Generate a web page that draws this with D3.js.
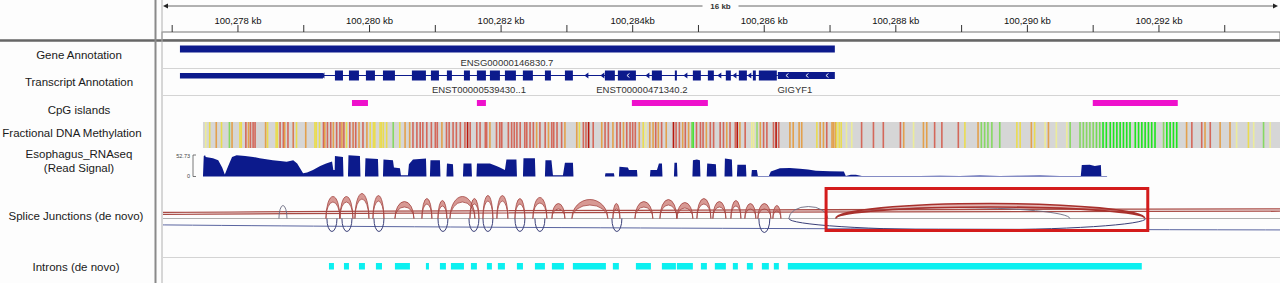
<!DOCTYPE html>
<html><head><meta charset="utf-8">
<script src="https://cdn.jsdelivr.net/npm/d3@7"></script>
<style>html,body{margin:0;padding:0;background:#fff;}svg{display:block;font-family:"Liberation Sans",Arial,sans-serif;}</style>
</head><body><svg id="c" width="1280" height="283"></svg>
<script>
// positions are in kb past chr position 100,000 kb
const viewKb = [276.83, 293.84];
const tickKb = [277,278,279,280,281,282,283,284,285,286,287,288,289,290,291,292,293];
const labelKb = [278,280,282,284,286,288,290,292];
const tickLabels = ["100,278 kb","100,280 kb","100,282 kb","100,284kb","100,286 kb","100,288 kb","100,290 kb","100,292 kb"];
const spanLabel = "16 kb";
const trackNames = ["Gene Annotation","Transcript Annotation","CpG islands","Fractional DNA Methylation","Esophagus_RNAseq","(Read Signal)","Splice Junctions (de novo)","Introns (de novo)"];

const geneSpan = [277.118, 287.073];
const geneName = "ENSG00000146830.7";
const geneNameKb = 282.088;
const leadKb = [277.118, 279.292];
const utrKb = [286.207, 287.073];
const exonStart = [279.474,279.687,279.945,280.204,280.644,280.933,281.176,281.435,281.632,281.830,282.058,282.331,282.666,282.970,283.578,283.775,284.292,284.641,284.915,285.143,285.416,285.614,285.827,285.918];
const exonEnd   = [279.596,279.839,280.082,280.386,280.857,281.055,281.252,281.526,281.769,281.982,282.225,282.483,282.757,283.091,283.729,284.049,284.444,284.672,285.036,285.234,285.492,285.736,285.872,286.191];
const intronArrowKb = [279.292,283.304,283.547,284.231,284.809,285.325,285.554,285.781];
const chevronKb = [283.928,286.345,286.649,286.953];
const transcriptNames = ["ENST00000539430..1","ENST00000471340.2","GIGYF1"];
const transcriptNameKb = [281.663, 284.14, 286.466];

const cpgStart = [279.733, 281.632, 283.988, 290.994];
const cpgEnd   = [279.976, 281.769, 285.143, 292.286];

const methBandKb = [277.468, 293.84];
const methKb = [277.51,277.57,277.67,277.75,277.87,277.91,278.03,278.05,278.12,278.16,278.19,278.23,278.26,278.42,278.45,278.58,278.60,278.64,278.69,278.71,278.76,278.84,278.89,279.03,279.17,279.19,279.24,279.30,279.32,279.36,279.41,279.45,279.50,279.55,279.58,279.61,279.65,279.70,279.75,279.79,279.84,279.90,279.96,280.01,280.06,280.08,280.16,280.18,280.21,280.26,280.36,280.46,280.54,280.61,280.66,280.72,280.77,280.81,280.87,280.94,281.00,281.03,281.10,281.17,281.21,281.27,281.32,281.38,281.45,281.49,281.53,281.63,281.68,281.76,281.78,281.83,281.93,281.98,282.01,282.11,282.16,282.20,282.24,282.29,282.36,282.39,282.44,282.49,282.54,282.59,282.67,282.72,282.77,282.80,282.85,
282.92,282.97,283.15,283.19,283.25,283.29,283.33,283.40,283.53,283.58,283.63,283.70,283.76,283.81,283.86,283.91,283.96,284.00,284.04,284.10,284.16,284.20,284.26,284.31,284.35,284.39,284.44,284.51,284.62,284.66,284.71,284.76,284.80,284.85,284.90,284.92,284.97,285.03,285.07,285.12,285.18,285.23,285.33,285.38,285.43,285.48,285.56,285.59,285.63,285.71,285.81,285.84,285.89,285.94,285.99,286.04,286.14,286.18,286.22,286.39,286.44,286.53,286.57,286.80,286.85,286.90,286.95,287.03,287.05,287.08,287.10,287.14,287.17,287.25,287.33,287.48,287.66,287.81,288.07,288.12,288.27,
288.42,288.47,288.59,288.70,288.95,289.05,289.25,289.30,289.35,289.40,289.46,289.58,289.84,289.89,290.06,290.11,290.27,290.32,290.44,290.60,290.65,290.80,290.85,290.90,290.95,291.00,291.05,291.10,291.15,291.20,291.26,291.31,291.36,291.41,291.46,291.51,291.56,291.64,291.69,291.74,291.79,291.84,291.89,291.94,292.07,292.12,292.17,292.22,292.27,292.42,292.50,292.65,292.70,292.78,292.93,293.08,293.18,293.36,293.44,293.59,293.69];
const methVal = [.5,.6,.75,.6,.25,.75,.6,.6,.9,.75,.9,.9,.9,.75,.6,.6,.6,.9,.9,.75,.9,.85,.6,.75,.6,.6,.6,.9,.75,.9,.9,.75,.9,.9,.75,.9,.6,.9,.85,.9,.75,.9,.75,.6,.6,.6,.6,.6,.6,.6,.25,.6,.75,.75,.9,.9,.9,.9,.9,.9,.9,.9,.75,.9,.9,.9,.9,.9,.9,1,.9,.9,.9,.9,.9,.75,.9,.9,.9,.9,.9,.9,.9,.9,.9,.9,.9,.9,.75,.9,.9,.75,.9,.9,.9,
.9,.75,.75,.6,.9,.9,1,.9,.75,.9,.9,.75,.9,.9,.75,.9,.9,.9,.9,.75,.6,.5,.75,.75,.9,.75,.9,.75,1,.9,.9,.75,.9,.75,.25,.1,.9,.9,.9,.75,.9,.9,.9,.9,.75,.9,.9,1,.75,.9,.5,.5,.3,.75,.9,.9,.9,1,.9,.75,.75,.75,.75,.6,.75,.75,.9,.75,.75,.75,.6,.6,.6,.5,.5,.9,.9,.9,.9,.75,.5,
.75,.75,.9,.9,.9,.6,.75,.25,.25,.25,.25,.25,.6,.6,.75,.6,.5,.75,.5,.5,.25,.25,.25,.25,.25,.25,.2,.2,0,0,0,0,0,0,0,0,0,0,0,0,0,0,0,0,.25,0,0,0,0,.75,.9,.9,.75,.9,.75,.75,.5,.6,.5,.25,.5];

const rnaMax = 52.73;
const rnaKb = [277.468,277.48,277.50,277.51,277.62,277.70,277.76,277.80,277.85,277.91,277.98,278.11,278.23,278.33,278.53,278.64,278.74,278.84,278.90,278.99,279.05,279.14,279.25,279.34,279.43,279.45,279.47,279.474,279.596,279.604,279.672,279.68,279.854,279.862,279.930,279.938,280.128,280.136,280.204,280.212,280.356,280.371,280.462,280.477,280.584,280.599,280.66,280.858,280.865,280.918,280.926,281.07,281.078,281.169,281.177,281.268,281.276,281.42,281.428,281.549,281.557,281.625,281.633,281.83,281.929,281.982,282.058,282.081,282.233,282.241,282.332,282.34,282.514,282.522,282.666,282.674,282.765,282.788,282.94,282.97,283.092,283.10,
283.578,283.586,283.715,283.723,283.791,283.799,283.928,283.943,284.065,284.073,284.262,284.27,284.369,284.399,284.445,284.453,284.627,284.635,284.673,284.681,284.908,284.916,284.976,285.022,285.03,285.125,285.133,285.265,285.273,285.396,285.402,285.508,285.516,285.584,285.592,285.721,285.729,285.803,285.812,285.888,285.903,286.07,286.10,286.238,286.39,286.542,286.664,286.785,286.998,287.21,287.24,287.317,287.393,287.484,288.138,288.365,288.669,288.973,289.277,289.581,289.885,290.189,290.493,290.812,290.827,290.949,291.025,291.117,291.124,291.207,291.215];
const rnaVal = [0,50,52,48,45,40,22,5,25,48,52,50,48,45,40,38,36,40,32,8,10,16,26,32,37,16,16,50,48,0,0,52,50,0,0,45,43,0,0,42,40,22,20,3,3,30,42,44,0,0,40,40,0,0,32,30,0,0,32,32,0,0,32,32,26,22,16,42,42,0,0,45,45,0,0,40,40,3,3,34,34,0,
0,8,8,0,0,24,22,16,16,0,0,16,16,32,32,0,0,34,34,0,0,40,42,40,0,0,32,30,0,0,44,42,0,0,29,29,0,0,16,16,1.5,1.5,12,20,21,19,17,14,13,12,1,4,4,1.5,1.5,1,2,1.5,2.5,1.5,2,2.5,1.5,1.5,28,29,26,28,1,1,0];

// splice junctions: start kb, end kb, depth (reads)
const plusStart = [279.337,279.550,279.778,280.052,280.386,280.796,281.040,281.222,281.526,281.724,281.936,282.210,282.483,282.772,283.076,283.699,284.034,284.414,284.672,284.976,285.219,285.493,285.705,285.903,286.131];
const plusEnd   = [279.550,279.748,279.991,280.219,280.675,280.948,281.176,281.602,281.663,281.875,282.103,282.362,282.696,282.970,283.623,283.806,284.307,284.672,284.915,285.189,285.417,285.645,285.873,286.101,286.253];
const plusDepth = [44,44,50,46,34,40,36,44,40,46,46,40,42,30,38,30,34,38,32,40,34,36,30,30,26];
const novelStart = [287.088], novelEnd = [291.785], novelDepth = [30];
const faintStart = [278.623, 286.374, 287.088], faintEnd = [278.745, 286.967, 290.645], faintDepth = [26, 24, 22];
const minusStart = [279.352,279.580,280.067,281.040,281.511,281.724,282.210,282.514,283.684,285.918,286.374];
const minusEnd   = [279.505,279.733,280.219,281.192,281.663,281.875,282.362,282.666,283.836,286.085,291.800];
const minusDepth = [26,26,26,26,26,26,26,26,26,28,23];
const longPlusStart = [270, 272], longPlusEnd = [335, 330], longPlusDepth = [20, 15];
const longMinusStart = [272], longMinusEnd = [335], longMinusDepth = [24];

const intronStart = [279.383,279.611,279.839,280.097,280.386,280.857,281.070,281.237,281.541,281.784,281.951,282.240,282.514,282.772,283.091,283.699,284.049,284.444,284.672,285.037,285.249,285.523,285.736,285.964,286.146,286.359];
const intronEnd   = [279.459,279.687,279.930,280.189,280.614,280.903,281.161,281.435,281.632,281.860,282.058,282.332,282.666,282.955,283.593,283.790,284.277,284.657,284.915,285.128,285.417,285.599,285.827,286.070,286.222,291.739];
const highlightKb = [286.94, 291.83];

const NAVY = "#0c1a8c";
const svg = d3.select("#c");
const W = 1280, H = 283;
const x = d3.scaleLinear().domain(viewKb).range([161, 1280]);

svg.append("rect").attr("width", W).attr("height", H).attr("fill", "#fdfdfd");
svg.append("defs").append("clipPath").attr("id","dp").append("rect")
  .attr("x",163).attr("y",0).attr("width",W-163).attr("height",H);

// ruler
const ruler = svg.append("g");
ruler.append("rect").attr("x",162).attr("y",32).attr("width",W-162).attr("height",8).attr("fill","#fff").attr("stroke","#777");
ruler.selectAll("line.t").data(tickKb).join("line").attr("class","t")
  .attr("x1",d=>x(d)).attr("x2",d=>x(d)).attr("y1",25).attr("y2",32).attr("stroke","#333");
ruler.selectAll("text.l").data(labelKb).join("text").attr("class","l")
  .attr("x",d=>x(d)).attr("y",24).attr("text-anchor","middle").attr("font-size",9.5).attr("fill","#111")
  .text((d,i)=>tickLabels[i]);
const mid = (x(viewKb[0])+x(viewKb[1]))/2;
ruler.append("line").attr("x1",166).attr("x2",mid-18).attr("y1",6).attr("y2",6).attr("stroke","#666");
ruler.append("line").attr("x1",mid+18).attr("x2",1275).attr("y1",6).attr("y2",6).attr("stroke","#666");
ruler.append("path").attr("d","M163,6 L168,3.5 L168,8.5 Z").attr("fill","#222");
ruler.append("path").attr("d","M1278,6 L1273,3.5 L1273,8.5 Z").attr("fill","#222");
ruler.append("text").attr("x",mid).attr("y",9).attr("text-anchor","middle").attr("font-size",8).attr("font-weight","bold").attr("fill","#333").text(spanLabel);

// frame lines
svg.append("line").attr("x1",0).attr("x2",W).attr("y1",40.5).attr("y2",40.5).attr("stroke","#666").attr("stroke-width",2.5);
svg.append("line").attr("x1",155.5).attr("x2",155.5).attr("y1",0).attr("y2",H).attr("stroke","#8a8a8a").attr("stroke-width",2);
svg.append("line").attr("x1",162).attr("x2",162).attr("y1",0).attr("y2",H).attr("stroke","#b0b0b0");
[68,95,257].forEach(y=>svg.append("line").attr("x1",163).attr("x2",W).attr("y1",y+0.5).attr("y2",y+0.5).attr("stroke","#d4d4d4"));

// track names
const nameY = [59,86,114,137,158,172,220,271];
svg.selectAll("text.tn").data(trackNames).join("text").attr("class","tn")
  .attr("x",(d,i)=>i===3?72:(i>=6?76:79)).attr("y",(d,i)=>nameY[i]).attr("text-anchor","middle")
  .attr("font-size",11.5).attr("fill","#1a1a1a").text(d=>d);

const g = svg.append("g").attr("clip-path","url(#dp)");

// gene annotation
g.append("rect").attr("x",x(geneSpan[0])).attr("y",45.5).attr("width",x(geneSpan[1])-x(geneSpan[0])).attr("height",7).attr("fill",NAVY);
g.append("text").attr("x",x(geneNameKb)).attr("y",66).attr("text-anchor","middle").attr("font-size",9.5).attr("fill","#333").text(geneName);

// transcript
g.append("line").attr("x1",x(leadKb[1])).attr("x2",x(utrKb[0])).attr("y1",75.5).attr("y2",75.5).attr("stroke",NAVY);
g.append("rect").attr("x",x(leadKb[0])).attr("y",73).attr("width",x(leadKb[1])-x(leadKb[0])).attr("height",5.5).attr("fill",NAVY);
g.append("rect").attr("x",x(utrKb[0])).attr("y",72).attr("width",x(utrKb[1])-x(utrKb[0])).attr("height",7).attr("fill",NAVY);
g.selectAll("rect.ex").data(exonStart).join("rect").attr("class","ex")
  .attr("x",d=>x(d)).attr("y",70.5).attr("width",(d,i)=>Math.max(2,x(exonEnd[i])-x(d))).attr("height",10).attr("fill",NAVY);
g.selectAll("path.ia").data(intronArrowKb).join("path").attr("class","ia")
  .attr("d",d=>{const p=x(d);return `M${p-2.5},75.5 L${p+1.5},72.5 L${p+1.5},78.5 Z`;}).attr("fill",NAVY);
g.selectAll("path.ch").data(chevronKb).join("path").attr("class","ch")
  .attr("d",d=>{const p=x(d);return `M${p+1.5},73.5 L${p-1},75.5 L${p+1.5},77.5`;}).attr("fill","none").attr("stroke","#fff").attr("stroke-width",0.9);
g.selectAll("text.tx").data(transcriptNames).join("text").attr("class","tx")
  .attr("x",(d,i)=>x(transcriptNameKb[i])).attr("y",93).attr("text-anchor","middle").attr("font-size",9.5).attr("fill","#333").text(d=>d);

// CpG islands
g.selectAll("rect.cpg").data(cpgStart).join("rect").attr("class","cpg")
  .attr("x",d=>x(d)).attr("y",100).attr("width",(d,i)=>x(cpgEnd[i])-x(d)).attr("height",6).attr("fill","#ee11cc");

// methylation
const methColor = d3.scaleLinear().domain([0,0.25,0.5,0.6,0.75,0.9,1])
  .range(["#1ee61e","#86d862","#ecec9a","#eadc50","#e3a04c","#d4685a","#b8160c"]);
g.append("rect").attr("x",x(methBandKb[0])).attr("y",122).attr("width",x(methBandKb[1])-x(methBandKb[0])).attr("height",26).attr("fill","#d6d6d6");
g.selectAll("rect.m").data(methKb).join("rect").attr("class","m")
  .attr("x",d=>x(d)-0.8).attr("y",122).attr("width",1.6).attr("height",26).attr("fill",(d,i)=>methColor(methVal[i]));

// RNA-seq
const yR = d3.scaleLinear().domain([0,rnaMax]).range([176.5,155]);
const area = d3.area().x(d=>x(d[0])).y0(yR(0)).y1(d=>yR(d[1]));
g.append("path").datum(rnaKb.map((k,i)=>[k,rnaVal[i]])).attr("d",area).attr("fill",NAVY);
svg.append("path").attr("d",`M196,${yR(rnaMax)} L193,${yR(rnaMax)} L193,${yR(0)} L196,${yR(0)}`).attr("fill","none").attr("stroke","#555").attr("stroke-width",0.8);
svg.append("text").attr("x",190).attr("y",yR(rnaMax)+2.5).attr("text-anchor","end").attr("font-size",5.5).attr("fill","#444").text(rnaMax.toFixed(2));
svg.append("text").attr("x",190).attr("y",yR(0)+1).attr("text-anchor","end").attr("font-size",5.5).attr("fill","#444").text("0");

// splice junctions
const base = 218.5;
const hS = d3.scaleLinear().domain([0,100]).range([0,50]);
function arc(s,e,d,up){const x0=x(s),x1=x(e),rx=(x1-x0)/2;return `M${x0},${base} A${rx},${hS(d)} 0 0 ${up?1:0} ${x1},${base}`;}
function ribbon(s,e,d,t){const x0=x(s),x1=x(e),rx=(x1-x0)/2,h=hS(d);return `M${x0},${base} A${rx},${h} 0 0 1 ${x1},${base} A${rx},${Math.max(h-t,1)} 0 0 0 ${x0},${base} Z`;}
const sj = g.append("g");
sj.append("line").attr("x1",163).attr("x2",W).attr("y1",base).attr("y2",base).attr("stroke","#9a9a9a").attr("stroke-width",0.8);
longPlusStart.forEach((s,i)=>sj.append("path").attr("d",arc(s,longPlusEnd[i],longPlusDepth[i],true)).attr("fill","none").attr("stroke","#a84a44").attr("stroke-width",1.3));
longMinusStart.forEach((s,i)=>sj.append("path").attr("d",arc(s,longMinusEnd[i],longMinusDepth[i],false)).attr("fill","none").attr("stroke","#5a65a0").attr("stroke-width",1));
minusStart.forEach((s,i)=>sj.append("path").attr("d",arc(s,minusEnd[i],minusDepth[i],false)).attr("fill","none").attr("stroke","#3a3f78").attr("stroke-width",1));
faintStart.forEach((s,i)=>sj.append("path").attr("d",arc(s,faintEnd[i],faintDepth[i],true)).attr("fill","none").attr("stroke","#6a6a80").attr("stroke-width",0.9));
plusStart.forEach((s,i)=>sj.append("path").attr("d",ribbon(s,plusEnd[i],plusDepth[i],5.5)).attr("fill","rgba(196,104,98,0.68)").attr("stroke","#a34440").attr("stroke-width",0.8));
novelStart.forEach((s,i)=>sj.append("path").attr("d",ribbon(s,novelEnd[i],novelDepth[i],3.5)).attr("fill","rgba(200,110,105,0.5)").attr("stroke","#a8302c").attr("stroke-width",1.6));

// highlight box
svg.append("rect").attr("x",x(highlightKb[0])).attr("y",188.5).attr("width",x(highlightKb[1])-x(highlightKb[0])).attr("height",42).attr("fill","none").attr("stroke","#d41c1c").attr("stroke-width",3);

// introns
g.selectAll("rect.in").data(intronStart).join("rect").attr("class","in")
  .attr("x",d=>x(d)).attr("y",263).attr("width",(d,i)=>x(intronEnd[i])-x(d)).attr("height",6.5).attr("fill","#0cf0f0");
</script></body></html>
